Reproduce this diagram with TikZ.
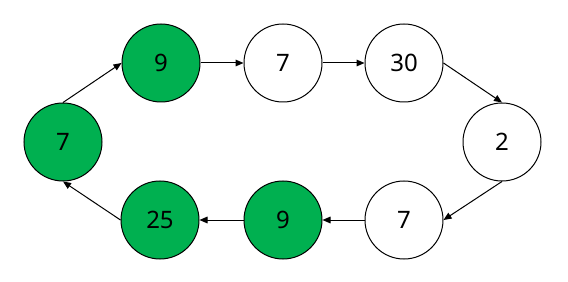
\documentclass[tikz,border=0pt]{standalone}
\usepackage{fontspec}
\setmainfont{Noto Sans}
\usepackage{tikz}
\usetikzlibrary{arrows.meta,positioning}
\definecolor{listgreen}{HTML}{00B050}
\definecolor{listline}{HTML}{000000}
\tikzset{
  listnode/.style={circle, draw=listline, fill=white, line width=0.75pt, minimum size=58.5pt, inner sep=0pt, font=\fontsize{18}{20}\selectfont},
  marked/.style={listnode, fill=listgreen},
  link/.style={-{Triangle[length=6pt, width=5pt]}, line width=0.75pt, draw=listline}
}
\begin{document}
\begin{tikzpicture}[on grid, node distance=59.25pt and 73.5pt]
  \useasboundingbox (-47.25pt,-105pt) rectangle (378.75pt,106.5pt);
  \node[marked] (start) at (0,0) {7};
  \node[marked, above right=of start] (nineA) {9};
  \node[listnode, right=91.5pt of nineA] (sevenA) {7};
  \node[listnode, right=90.75pt of sevenA] (thirty) {30};
  \node[listnode, below right=of thirty] (two) {2};
  \node[listnode, below left=58.5pt and 73.5pt of two] (sevenB) {7};
  \node[marked, left=90.75pt of sevenB] (nineB) {9};
  \node[marked, left=92.25pt of nineB] (twentyfive) {25};
  \draw[link] (start.north) -- (nineA.west);
  \draw[link] (nineA) -- (sevenA);
  \draw[link] (sevenA) -- (thirty);
  \draw[link] (thirty.east) -- (two.north);
  \draw[link] (two.south) -- (sevenB.east);
  \draw[link] (sevenB) -- (nineB);
  \draw[link] (nineB) -- (twentyfive);
  \draw[link] (twentyfive.west) -- (start.south);
\end{tikzpicture}
\end{document}
